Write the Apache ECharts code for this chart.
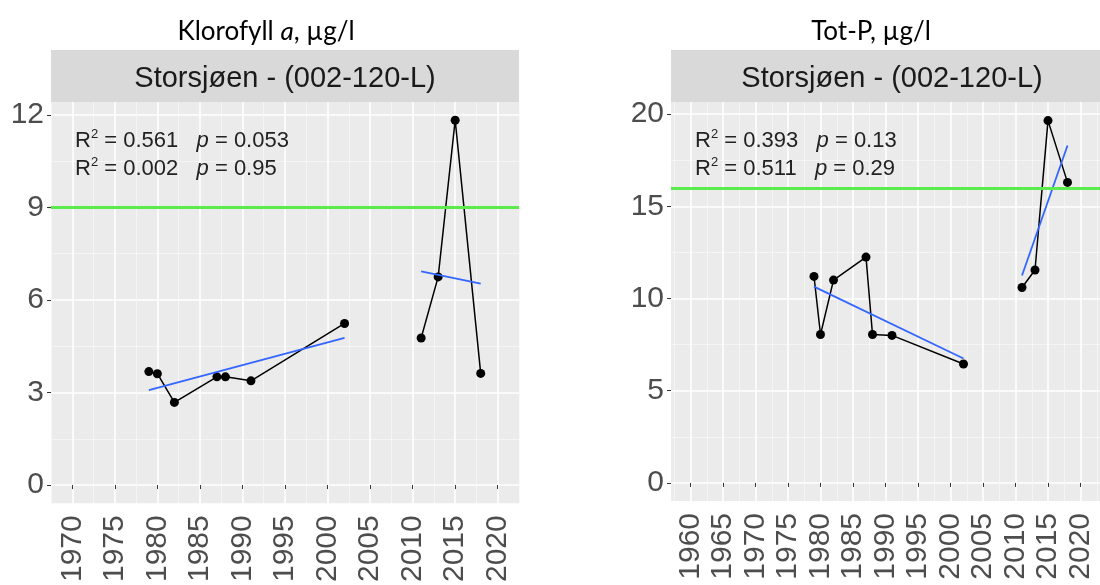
<!DOCTYPE html>
<html><head><meta charset="utf-8">
<script src="https://cdn.jsdelivr.net/npm/echarts@6/dist/echarts.min.js"></script>
<style>html,body{margin:0;padding:0;background:#fff}#c{width:1100px;height:585px}</style>
</head><body><div id="c"></div>
<script>
// ---------- data ----------
const chlTitle = 'Klorofyll';
const tpTitle = 'Tot-P, µg/l';
const stripLabel = 'Storsjøen - (002-120-L)';

const chlYearsA = [1979, 1980, 1982, 1987, 1988, 1991, 2002];
const chlValuesA = [3.68, 3.61, 2.68, 3.51, 3.51, 3.38, 5.24];
const chlYearsB = [2011, 2013, 2015, 2018];
const chlValuesB = [4.77, 6.75, 11.83, 3.62];
const chlTrendYearsA = [1979, 2002];
const chlTrendA = [3.08, 4.77];
const chlTrendYearsB = [2011, 2018];
const chlTrendB = [6.93, 6.53];
const chlLimit = 9;
const chlStats = [['0.561', '0.053'], ['0.002', '0.95']];

const tpYearsA = [1979, 1980, 1982, 1987, 1988, 1991, 2002];
const tpValuesA = [11.2, 8.05, 11.0, 12.25, 8.05, 8.0, 6.45];
const tpYearsB = [2011, 2013, 2015, 2018];
const tpValuesB = [10.6, 11.55, 19.65, 16.3];
const tpTrendYearsA = [1979, 2002];
const tpTrendA = [10.65, 6.75];
const tpTrendYearsB = [2011, 2018];
const tpTrendB = [11.25, 18.3];
const tpLimit = 16;
const tpStats = [['0.393', '0.13'], ['0.511', '0.29']];

const chlXTicks = [1970, 1975, 1980, 1985, 1990, 1995, 2000, 2005, 2010, 2015, 2020];
const chlXMinor = [1967.5, 1972.5, 1977.5, 1982.5, 1987.5, 1992.5, 1997.5, 2002.5, 2007.5, 2012.5, 2017.5, 2022.5];
const chlYTicks = [0, 3, 6, 9, 12];
const chlYMinor = [1.5, 4.5, 7.5, 10.5];
const tpXTicks = [1960, 1965, 1970, 1975, 1980, 1985, 1990, 1995, 2000, 2005, 2010, 2015, 2020];
const tpXMinor = [1957.5, 1962.5, 1967.5, 1972.5, 1977.5, 1982.5, 1987.5, 1992.5, 1997.5, 2002.5, 2007.5, 2012.5, 2017.5, 2022.5];
const tpYTicks = [0, 5, 10, 15, 20];
const tpYMinor = [2.5, 7.5, 12.5, 17.5];

// ---------- layout / style ----------
const G0 = {left: 51, top: 102, width: 468, height: 402};
const G1 = {left: 671, top: 102, width: 442, height: 399};
const X0 = [1967.5, 2022.5], Y0 = [-0.59, 12.42];
const X1 = [1957, 2023], Y1 = [-0.98, 20.66];
const FONT = '"Liberation Sans", Arial, sans-serif';
const TFONT = 'Lato, "Open Sans", sans-serif';
const PANEL = '#EBEBEB', STRIP = '#D9D9D9';

const pairs = (xs, ys) => xs.map((x, i) => [x, ys[i]]);

function majorX(grid, ext, ticks) {
  return {type: 'value', gridIndex: grid, min: ext[0], max: ext[1], position: 'bottom',
    axisLine: {show: false},
    axisTick: {show: true, length: 4, lineStyle: {color: '#333', width: 1}, customValues: ticks},
    axisLabel: {show: true, rotate: 90, margin: 12, fontSize: 30, fontFamily: FONT, color: '#4D4D4D', customValues: ticks, formatter: v => String(v)},
    splitLine: {show: true, lineStyle: {color: '#FFFFFF', width: 1.6}}};
}
function minorX(grid, ext, ticks) {
  return {type: 'value', gridIndex: grid, min: ext[0], max: ext[1], position: 'top',
    axisLine: {show: false},
    axisTick: {show: false, customValues: ticks},
    axisLabel: {show: false, customValues: ticks},
    splitLine: {show: true, lineStyle: {color: '#F7F7F7', width: 0.8}}};
}
function majorY(grid, ext, ticks) {
  return {type: 'value', gridIndex: grid, min: ext[0], max: ext[1], position: 'left',
    axisLine: {show: false},
    axisTick: {show: true, length: 4, lineStyle: {color: '#333', width: 1}, customValues: ticks},
    axisLabel: {show: true, margin: 7, fontSize: 30, fontFamily: FONT, color: '#4D4D4D', customValues: ticks, formatter: v => String(v)},
    splitLine: {show: true, lineStyle: {color: '#FFFFFF', width: 1.6}}};
}
function minorY(grid, ext, ticks) {
  return {type: 'value', gridIndex: grid, min: ext[0], max: ext[1], position: 'right',
    axisLine: {show: false},
    axisTick: {show: false, customValues: ticks},
    axisLabel: {show: false, customValues: ticks},
    splitLine: {show: true, lineStyle: {color: '#F7F7F7', width: 0.8}}};
}

function obsSeries(xi, yi, xs, ys) {
  return {type: 'line', xAxisIndex: xi, yAxisIndex: yi, data: pairs(xs, ys),
    symbol: 'circle', symbolSize: 9, showSymbol: true,
    lineStyle: {color: '#000', width: 1.5}, itemStyle: {color: '#000'}, z: 3, silent: true};
}
function trendSeries(xi, yi, xs, ys, limit) {
  const s = {type: 'line', xAxisIndex: xi, yAxisIndex: yi, data: pairs(xs, ys),
    symbol: 'none', showSymbol: false, lineStyle: {color: '#3366FF', width: 1.8}, z: 4, silent: true};
  if (limit !== undefined) {
    s.markLine = {silent: true, symbol: 'none', label: {show: false}, animation: false,
      lineStyle: {color: '#5CEB4C', width: 3, type: 'solid', opacity: 1}, data: [{yAxis: limit}]};
  }
  return s;
}

const rich = {
  b: {fontSize: 22, fontFamily: FONT, color: '#222', lineHeight: 26},
  sup: {fontSize: 13, fontFamily: FONT, color: '#222', verticalAlign: 'top', lineHeight: 26, padding: [0, 0, 10, 0]},
  it: {fontSize: 22, fontFamily: FONT, color: '#222', fontStyle: 'italic', lineHeight: 26}
};
function statLine(st) {
  return '{b|R}{sup|2}{b| = ' + st[0] + '   }{it|p}{b| = ' + st[1] + '}';
}
function statTexts(g, stats) {
  return stats.map((st, i) => ({type: 'text', left: g.left + 24, top: 128 + i * 28, z: 10, silent: true,
    style: {text: statLine(st), rich: rich, fill: '#222'}}));
}
function strip(g) {
  return [
    {type: 'rect', shape: {x: g.left, y: 50, width: g.width, height: 52}, style: {fill: STRIP}, z: 1, silent: true},
    {type: 'text', x: g.left + g.width / 2, y: 79, z: 2, silent: true,
      style: {text: stripLabel, fontSize: 29, fontFamily: FONT, fill: '#1A1A1A', align: 'center', verticalAlign: 'middle'}}
  ];
}

const option = {
  animation: false,
  backgroundColor: '#FFFFFF',
  grid: [
    Object.assign({show: true, backgroundColor: PANEL, borderWidth: 0}, G0),
    Object.assign({show: true, backgroundColor: PANEL, borderWidth: 0}, G1)
  ],
  xAxis: [majorX(0, X0, chlXTicks), minorX(0, X0, chlXMinor), majorX(1, X1, tpXTicks), minorX(1, X1, tpXMinor)],
  yAxis: [majorY(0, Y0, chlYTicks), minorY(0, Y0, chlYMinor), majorY(1, Y1, tpYTicks), minorY(1, Y1, tpYMinor)],
  series: [
    trendSeries(0, 0, chlTrendYearsA, chlTrendA, chlLimit),
    trendSeries(0, 0, chlTrendYearsB, chlTrendB),
    obsSeries(0, 0, chlYearsA, chlValuesA),
    obsSeries(0, 0, chlYearsB, chlValuesB),
    trendSeries(2, 2, tpTrendYearsA, tpTrendA, tpLimit),
    trendSeries(2, 2, tpTrendYearsB, tpTrendB),
    obsSeries(2, 2, tpYearsA, tpValuesA),
    obsSeries(2, 2, tpYearsB, tpValuesB)
  ],
  graphic: [
    {type: 'text', x: 266, y: 32, silent: true,
      style: {text: chlTitle + ' {it|a}, µg/l', fontSize: 26, fontFamily: TFONT, fill: '#000', align: 'center', verticalAlign: 'middle',
        rich: {it: {fontSize: 26, fontFamily: TFONT, fontStyle: 'italic', fill: '#000'}}}},
    {type: 'text', x: 871, y: 32, silent: true,
      style: {text: tpTitle, fontSize: 26, fontFamily: TFONT, fill: '#000', align: 'center', verticalAlign: 'middle'}},
    ...strip(G0), ...strip(G1),
    ...statTexts(G0, chlStats), ...statTexts(G1, tpStats)
  ]
};

const chart = echarts.init(document.getElementById('c'), null, {renderer: 'canvas'});
chart.setOption(option);
</script></body></html>
